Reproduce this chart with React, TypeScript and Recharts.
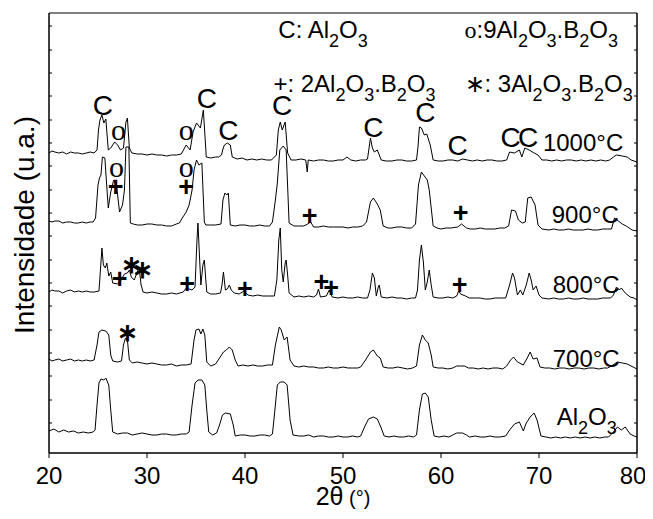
import React from 'react';
import { LineChart, Line, XAxis, YAxis, ReferenceDot, ReferenceArea } from 'recharts';

const SANS = '"Liberation Sans", Arial, Helvetica, sans-serif';
const SERIF = '"Liberation Serif", "Times New Roman", serif';

type P = [number, number];

// 2θ (deg), intensity (a.u., stacked)
const al2o3: P[] = [[20,22],[20.5,24],[21,21],[21.5,23],[22,21],[22.5,22],[23,20],[23.5,21],[24,20],[24.5,21],[24.7,23],[24.9,48],[25.1,70],[25.3,74],[25.6,73],[25.8,75],[26.1,68],[26.3,43],[26.5,21],[27,19],[27.5,20],[28,20],[28.5,18],[29,19],[29.5,20],[30,19],[30.5,18],[31,18],[31.5,19],[32,19],[32.5,18],[33,18],[33.5,19],[34,19],[34.3,21],[34.6,48],[34.9,70],[35.2,73],[35.6,73],[35.9,68],[36.1,43],[36.3,21],[36.7,18],[37.1,20],[37.4,28],[37.7,38],[38,40],[38.5,39],[38.8,28],[39,17],[39.5,18],[40,18],[40.5,17],[41,17],[41.5,18],[42,18],[42.5,17],[42.8,19],[43,38],[43.3,68],[43.6,71],[44,71],[44.3,68],[44.6,33],[44.9,18],[45.5,17],[46,17],[46.5,18],[47,16],[47.5,17],[48,17],[48.5,16],[49,16],[49.5,17],[50,16],[50.5,16],[51,17],[51.5,16],[51.8,17],[52.2,26],[52.6,34],[53.1,36],[53.5,34],[53.9,25],[54.2,17],[54.7,16],[55.2,17],[55.7,16],[56.2,16],[56.7,17],[57.2,16],[57.5,18],[57.8,43],[58.1,59],[58.4,60],[58.7,56],[59,33],[59.3,17],[59.8,16],[60.3,17],[60.8,16],[61.2,18],[61.6,20],[62.2,20],[62.6,18],[62.9,16],[63.5,17],[64,16],[64.5,16],[65,17],[65.5,16],[66,16],[66.6,17],[67,23],[67.5,29],[68,31],[68.4,22],[68.7,30],[69.1,36],[69.5,40],[69.8,33],[70.2,17],[70.7,16],[71.2,15],[71.7,16],[72.2,15],[72.7,16],[73.2,15],[73.7,16],[74.2,15],[74.7,16],[75.2,15],[75.7,16],[76.2,15],[76.7,16],[77.1,16],[77.5,20],[78,26],[78.4,23],[78.8,26],[79.3,19],[79.7,17],[80,16]];

const s700: P[] = [[20,94],[20.3,92],[20.6,93],[21,94],[21.4,92],[21.8,93],[22.2,94],[22.6,92],[23,93],[23.4,92],[23.8,93],[24.2,92],[24.6,93],[24.9,108],[25.1,121],[25.4,123],[25.8,122],[26.1,118],[26.3,98],[26.5,92],[27,91],[27.4,92],[27.6,108],[27.8,115],[28,113],[28.2,93],[28.5,90],[29,91],[29.5,90],[30,89],[30.5,90],[31,89],[31.5,88],[32,88],[32.5,89],[33,87],[33.5,88],[34,88],[34.5,89],[34.8,113],[35,123],[35.3,124],[35.5,119],[35.7,124],[35.9,118],[36.1,91],[36.5,87],[37,89],[37.4,95],[37.8,101],[38.1,103],[38.4,106],[38.7,103],[39,93],[39.3,87],[39.8,88],[40.3,87],[40.8,88],[41.3,87],[41.8,87],[42.3,88],[42.8,88],[43.1,108],[43.5,126],[43.7,123],[44,113],[44.3,116],[44.6,93],[45,87],[45.5,86],[46,87],[46.5,86],[47,86],[47.5,85],[48,85],[48.5,86],[49,85],[49.5,85],[50,86],[50.5,85],[51,85],[51.5,85],[51.8,86],[52.3,93],[52.8,101],[53.1,103],[53.5,97],[53.8,95],[54.1,86],[54.6,85],[55.1,85],[55.6,86],[56.1,85],[56.6,84],[57.1,85],[57.5,87],[57.8,108],[58.1,118],[58.4,113],[58.7,110],[59,98],[59.2,86],[59.7,85],[60.2,85],[60.7,84],[61.2,85],[61.6,87],[62,87],[62.4,87],[62.8,85],[63.3,85],[63.8,84],[64.3,85],[64.8,84],[65.3,85],[65.8,85],[66.3,84],[66.7,87],[67.1,93],[67.4,96],[67.8,91],[68.4,88],[68.8,95],[69.1,101],[69.4,94],[69.8,95],[70.1,86],[70.6,85],[71.1,85],[71.6,84],[72.1,85],[72.6,85],[73.1,84],[73.6,85],[74.1,85],[74.6,84],[75.1,85],[75.6,85],[76.1,84],[76.6,85],[77,85],[77.4,87],[78,91],[78.5,90],[79,89],[79.6,86],[80,84]];

const s800: P[] = [[20,161],[20.3,163],[20.6,162],[21,162],[21.4,160],[21.8,162],[22.2,163],[22.6,161],[23,162],[23.4,161],[23.8,162],[24.2,161],[24.6,161],[25.1,162],[25.25,183],[25.4,205],[25.55,188],[25.75,185],[25.9,190],[26.1,177],[26.3,181],[26.5,170],[27,169],[27.3,172],[27.7,179],[28,180],[28.2,183],[28.4,176],[28.7,173],[29,181],[29.2,185],[29.4,168],[29.6,161],[30,160],[30.5,161],[31,160],[31.5,159],[32,159],[32.5,160],[33,159],[33.7,161],[34,165],[34.6,163],[34.9,166],[35.1,213],[35.2,230],[35.35,198],[35.5,168],[35.7,188],[35.85,193],[36,173],[36.1,161],[36.5,159],[37,159],[37.5,160],[37.65,168],[37.8,181],[38,163],[38.2,164],[38.4,168],[38.6,163],[38.9,160],[39.4,159],[39.9,162],[40.3,158],[40.8,157],[41.3,158],[41.8,157],[42.3,157],[43,157],[43.25,173],[43.45,213],[43.6,225],[43.75,183],[43.9,171],[44.1,190],[44.2,193],[44.35,178],[44.5,160],[45,156],[45.5,157],[46,156],[46.5,157],[47,156],[47.3,158],[47.5,164],[47.7,156],[48.3,157],[48.6,163],[48.9,156],[49.5,155],[50,156],[50.5,155],[51,155],[51.5,156],[52,155],[52.5,155],[52.75,163],[53,180],[53.2,175],[53.4,157],[53.6,166],[53.7,168],[53.9,156],[54.5,155],[55,156],[55.5,155],[56,155],[56.5,154],[57,155],[57.4,155],[57.6,163],[57.8,193],[58,208],[58.2,191],[58.4,163],[58.6,171],[58.8,183],[59,168],[59.2,156],[59.7,155],[60.2,155],[60.7,156],[61.2,155],[61.6,157],[61.8,162],[62,159],[62.5,157],[62.9,155],[63.5,155],[64,155],[64.5,154],[65,154],[65.5,155],[66,155],[66.6,155],[67,168],[67.3,180],[67.5,175],[67.8,158],[68.1,163],[68.35,158],[68.7,168],[69,180],[69.2,173],[69.4,163],[69.7,167],[70,158],[70.3,155],[71,154],[71.5,155],[72,154],[72.5,154],[73,155],[73.5,154],[74,154],[74.5,155],[75,154],[75.5,154],[76,154],[76.5,155],[77.3,155],[77.6,158],[77.9,166],[78.2,163],[78.4,165],[78.8,160],[79.3,156],[79.7,155],[80,153]];

const s900: P[] = [[20,232],[20.3,231],[20.6,232],[21,232],[21.4,230],[21.8,231],[22.2,231],[22.6,230],[23,230],[23.4,231],[23.8,230],[24.2,231],[24.5,231],[24.75,235],[25,268],[25.15,275],[25.3,278],[25.45,296],[25.7,295],[25.85,273],[26.05,245],[26.3,261],[26.6,273],[26.9,267],[27.2,241],[27.5,248],[27.7,263],[27.85,306],[28.15,306],[28.3,230],[28.6,229],[29,228],[29.5,228],[30,229],[30.5,229],[31,228],[31.5,228],[32,227],[32.5,227],[33,229],[33.3,230],[33.6,235],[34,241],[34.3,248],[34.6,263],[34.8,283],[35.05,293],[35.3,288],[35.6,290],[35.85,231],[36,228],[36.5,228],[37,228],[37.55,229],[37.75,253],[37.95,260],[38.15,258],[38.3,260],[38.5,228],[39,227],[39.5,228],[40,228],[40.5,227],[41,227],[41.5,228],[42,227],[42.5,227],[42.8,231],[43.1,253],[43.3,270],[43.55,303],[43.9,307],[44.2,303],[44.5,230],[45,227],[45.5,227],[46,227],[46.4,229],[46.7,231],[47,226],[47.5,226],[48,227],[48.5,226],[49,226],[49.5,226],[50,226],[50.5,225],[51,226],[51.5,226],[52,227],[52.4,231],[52.8,251],[53.1,255],[53.5,249],[53.8,243],[54.1,227],[54.6,225],[55,225],[55.5,226],[56,226],[56.5,225],[57,225],[57.4,229],[57.7,268],[58,281],[58.3,277],[58.6,273],[58.8,263],[59.2,227],[59.6,225],[60,224],[60.5,225],[61,225],[61.7,226],[62.1,229],[62.6,225],[63,224],[63.5,224],[64,225],[64.5,224],[65,224],[65.5,224],[66,225],[66.5,225],[66.9,227],[67.2,243],[67.6,242],[67.9,233],[68.3,230],[68.6,231],[68.85,255],[69.2,256],[69.6,248],[69.9,228],[70.3,224],[71,223],[71.5,224],[72,223],[72.5,223],[73,224],[73.5,223],[74,223],[74.5,223],[75,224],[75.5,223],[76,223],[76.5,224],[77,224],[77.4,224],[77.7,235],[78.1,232],[78.5,229],[78.9,227],[79.5,223],[80,222]];

const s1000: P[] = [[20,300],[20.3,302],[20.6,301],[21,300],[21.4,301],[21.8,299],[22.2,301],[22.6,300],[23,300],[23.4,299],[23.8,300],[24.2,301],[24.6,300],[24.9,303],[25.05,323],[25.2,333],[25.4,338],[25.6,330],[25.8,334],[26.05,303],[26.3,305],[26.7,311],[27,308],[27.3,303],[27.6,305],[27.85,331],[28,335],[28.2,305],[28.45,300],[29,299],[29.5,299],[30,298],[30.5,299],[31,298],[31.5,298],[32,297],[32.5,298],[33,298],[33.5,299],[34,308],[34.4,303],[34.7,321],[35.05,330],[35.45,325],[35.75,343],[36.05,296],[36.5,295],[37,296],[37.3,296],[37.6,298],[37.75,304],[37.9,308],[38.2,310],[38.5,308],[38.7,296],[39.2,294],[39.7,295],[40.2,293],[40.7,294],[41.2,293],[41.7,294],[42.2,293],[42.7,293],[43.2,298],[43.4,323],[43.6,331],[43.8,323],[44.1,331],[44.35,300],[44.7,293],[45.2,293],[45.7,294],[46.2,293],[46.35,281],[46.45,293],[47,292],[47.5,293],[48,293],[48.5,292],[49,292],[49.5,293],[50,293],[50.4,296],[50.8,293],[51.3,292],[51.8,293],[52.3,293],[52.5,294],[52.8,315],[53,305],[53.2,301],[53.5,303],[53.9,293],[54.4,292],[55,292],[55.5,293],[56,293],[56.5,292],[57,292],[57.5,293],[57.65,306],[57.8,326],[58,325],[58.3,318],[58.55,319],[58.9,308],[59.2,293],[59.7,292],[60.2,292],[60.7,293],[61.2,293],[61.7,292],[62.2,294],[62.7,293],[63.2,292],[63.7,293],[64.2,292],[64.7,293],[65.2,293],[65.7,292],[66.2,292],[66.7,293],[67,301],[67.5,300],[68,303],[68.25,296],[68.55,305],[69,303],[69.5,300],[69.9,298],[70.3,293],[70.8,293],[71.3,292],[71.8,293],[72.3,292],[72.8,293],[73.3,293],[73.8,292],[74.3,293],[74.8,292],[75.3,293],[75.8,292],[76.3,293],[76.8,292],[77.2,293],[77.6,296],[77.9,298],[78.5,297],[79,296],[79.4,293],[80,291]];

const xTicks = [20, 30, 40, 50, 60, 70, 80];
const yMinorTicks = [30, 53, 77, 100, 123, 147, 170, 193, 217, 240, 263, 287, 310, 333, 357, 380, 403, 427];

// phase markers [2θ, intensity]
const cMarks: P[] = [[25.5,338],[36.1,345],[38.3,313],[43.8,338],[53.1,316],[58.4,331],[61.7,298],[67.1,306],[68.9,306]];
const oMarks: P[] = [[27.1,313],[34.0,313],[26.9,276],[34.0,276]];
const plusMarks: P[] = [[26.8,266.5],[34.0,266.5],[46.6,237],[62.0,240.5],[27.2,174.5],[34.1,169.5],[40.0,164.5],[47.8,171.5],[48.8,165.5],[61.9,168.5]];
const starMarks: P[] = [[28.4,189.5],[29.5,184.5],[28.0,121.5]];

// series labels: [text, 2θ, intensity]
const seriesLabels: [string, number, number][] = [
  ['1000°C', 70.4, 302],
  ['900°C', 71.3, 230],
  ['800°C', 71.4, 160],
  ['700°C', 71.4, 86],
  ['Al_2O_3', 71.8, 28],
];

// legend entries: [lead, leadSerif, text, 2θ, intensity]
const legendItems: [string, boolean, string, number, number][] = [
  ['C', false, ': Al_2O_3', 43.4, 415],
  ['o', true, ':9Al_2O_3.B_2O_3', 62.4, 415],
  ['+', false, ': 2Al_2O_3.B_2O_3', 42.9, 361],
  ['\u2217', false, ': 3Al_2O_3.B_2O_3', 62.4, 361],
];

const toData = (pts: P[]) => pts.map(([x, y]) => ({ x, y }));
const seriesList = [al2o3, s700, s800, s900, s1000];

function chemSpans(text: string, subSize: number, drop: number) {
  const parts = text.split(/(_\d)/).filter((p) => p.length > 0);
  let lowered = false;
  return parts.map((p, i) => {
    if (p.startsWith('_')) {
      const el = (
        <tspan key={i} fontSize={subSize} dy={lowered ? 0 : drop}>
          {p.slice(1)}
        </tspan>
      );
      lowered = true;
      return el;
    }
    const el = (
      <tspan key={i} dy={lowered ? -drop : 0}>
        {p}
      </tspan>
    );
    lowered = false;
    return el;
  });
}

export default function App() {
  return (
    <LineChart
      width={637}
      height={503}
      margin={{ top: 5, right: 8, left: 41, bottom: 28 }}
      style={{ fontFamily: SANS }}
    >
      <XAxis
        type="number"
        dataKey="x"
        domain={[20, 80]}
        ticks={xTicks}
        allowDataOverflow
        stroke="#000"
        tickSize={5}
        tickMargin={9}
        height={30}
        tick={{ fontSize: 24, fill: '#000', fontFamily: SANS }}
      />
      <YAxis
        type="number"
        domain={[0, 440]}
        ticks={yMinorTicks}
        allowDataOverflow
        mirror
        stroke="#000"
        tickSize={3}
        tickFormatter={() => ''}
      />
      <YAxis
        yAxisId="r"
        orientation="right"
        type="number"
        domain={[0, 440]}
        ticks={yMinorTicks}
        allowDataOverflow
        mirror
        stroke="#000"
        tickSize={3}
        tickFormatter={() => ''}
      />
      <ReferenceArea x1={20} x2={80} y1={0} y2={440} fill="none" stroke="#000" strokeWidth={1} />
      {seriesList.map((pts, i) => (
        <Line
          key={i}
          data={toData(pts)}
          dataKey="y"
          type="linear"
          stroke="#000"
          strokeWidth={1}
          dot={false}
          activeDot={false}
          isAnimationActive={false}
        />
      ))}
      {cMarks.map(([x, y], i) => (
        <ReferenceDot
          key={'c' + i}
          x={x}
          y={y}
          r={1}
          shape={(p: any) => (
            <text x={p.cx} y={p.cy} textAnchor="middle" fontSize={28} fontFamily={SANS} fill="#000">C</text>
          )}
        />
      ))}
      {oMarks.map(([x, y], i) => (
        <ReferenceDot
          key={'o' + i}
          x={x}
          y={y}
          r={1}
          shape={(p: any) => (
            <text x={p.cx} y={p.cy} textAnchor="middle" fontSize={30} fontFamily={SERIF} fill="#000">o</text>
          )}
        />
      ))}
      {plusMarks.map(([x, y], i) => (
        <ReferenceDot
          key={'p' + i}
          x={x}
          y={y}
          r={1}
          shape={(p: any) => (
            <text x={p.cx} y={p.cy} textAnchor="middle" dominantBaseline="central" fontSize={27} fontWeight={700} fontFamily={SANS} fill="#000">+</text>
          )}
        />
      ))}
      {starMarks.map(([x, y], i) => (
        <ReferenceDot
          key={'s' + i}
          x={x}
          y={y}
          r={1}
          shape={(p: any) => (
            <text x={p.cx} y={p.cy} textAnchor="middle" dominantBaseline="central" fontSize={25} fontWeight={700} fontFamily={SANS} fill="#000">{'\u2217'}</text>
          )}
        />
      ))}
      {seriesLabels.map(([t, x, y], i) => (
        <ReferenceDot
          key={'l' + i}
          x={x}
          y={y}
          r={1}
          shape={(p: any) => (
            <text x={p.cx} y={p.cy} fontSize={24} fontFamily={SANS} fill="#000">
              {chemSpans(t, 18, 9)}
            </text>
          )}
        />
      ))}
      {legendItems.map(([lead, serif, t, x, y], i) => (
        <ReferenceDot
          key={'g' + i}
          x={x}
          y={y}
          r={1}
          shape={(p: any) => (
            <text x={p.cx} y={p.cy} fontSize={24} fontFamily={SANS} fill="#000">
              <tspan fontFamily={serif ? SERIF : SANS}>{lead}</tspan>
              {chemSpans(t, 18, 9)}
            </text>
          )}
        />
      ))}
      <ReferenceDot
        x={20}
        y={228}
        r={1}
        shape={(p: any) => (
          <text
            x={p.cx - 15}
            y={p.cy}
            transform={`rotate(-90, ${p.cx - 15}, ${p.cy})`}
            textAnchor="middle"
            fontSize={28}
            fontFamily={SANS}
            fill="#000"
          >
            Intensidade (u.a.)
          </text>
        )}
      />
      <ReferenceDot
        x={50}
        y={0}
        r={1}
        shape={(p: any) => (
          <text x={p.cx} y={p.cy + 52} textAnchor="middle" fontFamily={SANS} fill="#000">
            <tspan fontSize={25}>2θ</tspan>
            <tspan fontSize={20}> (°)</tspan>
          </text>
        )}
      />
    </LineChart>
  );
}
